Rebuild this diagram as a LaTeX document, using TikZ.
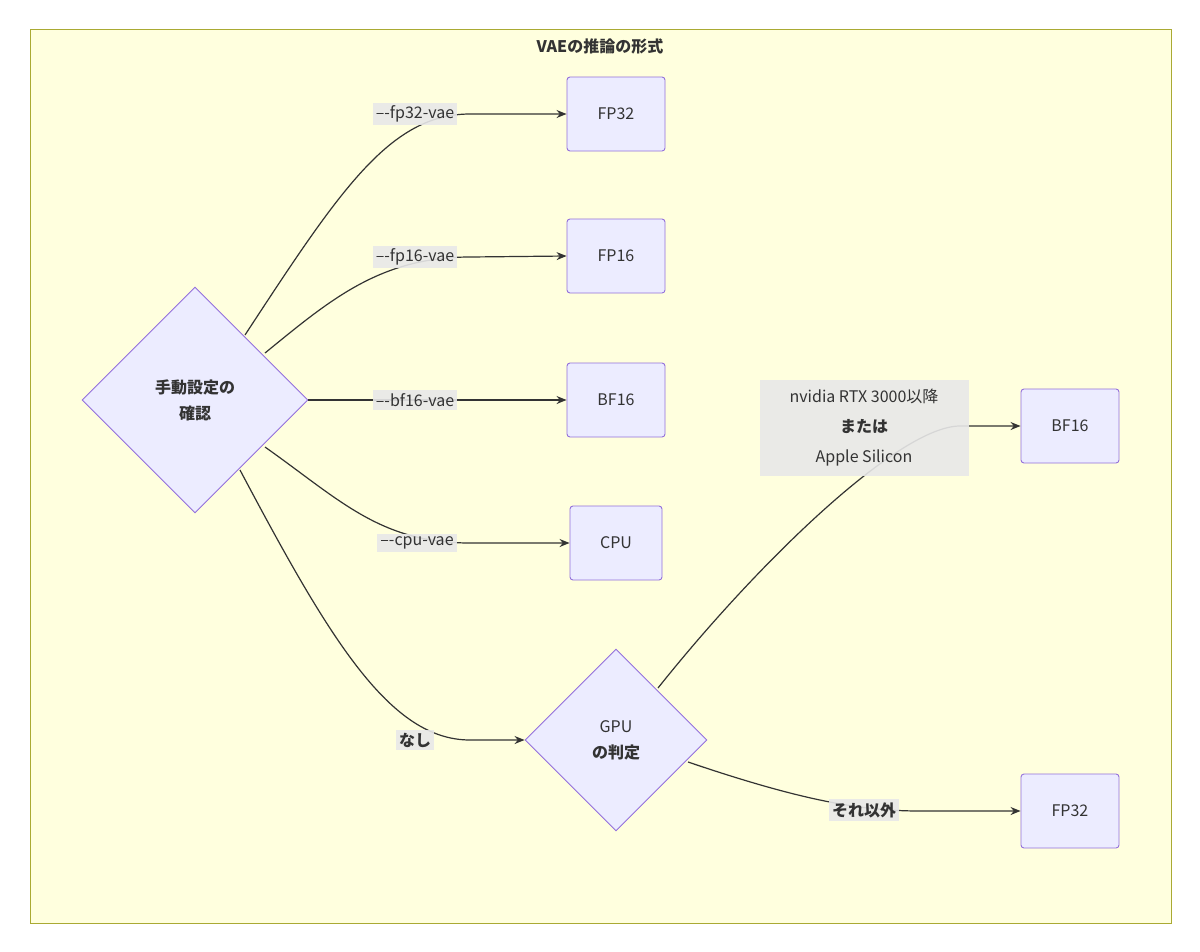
\documentclass[tikz,border=0pt]{standalone}
\usepackage{fontspec}
\setmainfont{Noto Sans CJK JP}
\usetikzlibrary{shapes.geometric,arrows.meta}
\definecolor{bgc}{HTML}{FFFFDE}
\definecolor{bgs}{HTML}{AAAA33}
\definecolor{nf}{HTML}{ECECFF}
\definecolor{ns}{HTML}{9370DB}
\definecolor{ln}{HTML}{333333}
\definecolor{lb}{HTML}{E8E8E8}
\begin{document}
\begin{tikzpicture}[x=1pt,y=-1pt,
  every node/.style={font=\fontsize{16}{21}\selectfont, text=ln},
  box/.style={draw=ns,fill=nf,rounded corners=3pt,line width=0.9pt,minimum width=98pt,minimum height=74pt,inner sep=0},
  dia/.style={diamond,draw=ns,fill=nf,line width=0.9pt,aspect=1,inner sep=0,align=center,font=\fontsize{16}{26}\selectfont\bfseries},
  lab/.style={fill=lb,fill opacity=0.9,text opacity=1,inner sep=3pt},
  edge/.style={draw=ln,line width=1.2pt,-{Stealth[length=10pt,width=8pt]}}]
\useasboundingbox (0,0) rectangle (1200,951);
\draw[fill=bgc,draw=bgs,line width=0.9pt] (30,29) rectangle (1171,923);
\node[font=\fontsize{16}{20}\selectfont\bfseries] (title) at (600,46) {VAEの推論の形式};
\node[dia,minimum width=226pt,minimum height=226pt] (d1) at (195,400) {手動設定の\\確認};
\node[dia,minimum width=182pt,minimum height=182pt] (d2) at (616,740) {\mdseries GPU\\の判定};
\node[box] (fp32) at (616,114) {FP32};
\node[box] (fp16) at (616,256) {FP16};
\node[box] (bf16) at (616,400) {BF16};
\node[box,minimum width=92pt] (cpu) at (616,543) {CPU};
\node[box] (bf16b) at (1070,426) {BF16};
\node[box] (fp32b) at (1070,811) {FP32};
\coordinate (a1) at (245,335); \coordinate (a2) at (265,353);
\coordinate (a4) at (265,447); \coordinate (a5) at (240,470);
\coordinate (b1) at (658,688); \coordinate (b2) at (688,762);
\draw[edge] (a1) .. controls (340,190) and (390,114) .. (470,114) -- (fp32.west);
\draw[edge] (a2) .. controls (330,300) and (380,257) .. (470,257) -- (fp16.west);
\draw[edge] (d1.east) -- (bf16.west);
\draw[edge] (a4) .. controls (340,500) and (380,543) .. (470,543) -- (cpu.west);
\draw[edge] (a5) .. controls (330,640) and (390,740) .. (470,740) -- (d2.west);
\draw[edge] (b1) .. controls (760,560) and (900,426) .. (960,426) -- (bf16b.west);
\draw[edge] (b2) .. controls (800,800) and (860,811) .. (920,811) -- (fp32b.west);
\node[lab] (l1) at (415,114) {--{}-fp32-vae};
\node[lab] (l2) at (415,257) {--{}-fp16-vae};
\node[lab] (l3) at (415,400) {--{}-bf16-vae};
\node[lab] (l4) at (417,543) {--{}-cpu-vae};
\node[lab,font=\fontsize{16}{21}\selectfont\bfseries] (l5) at (415,740) {なし};
\node[lab,align=center,minimum width=209pt,minimum height=96pt,font=\fontsize{16}{30}\selectfont] (l6) at (864,428) {nvidia RTX 3000以降\\\textbf{または}\\Apple Silicon};
\node[lab,font=\fontsize{16}{21}\selectfont\bfseries] (l7) at (864,810) {それ以外};
\end{tikzpicture}
\end{document}
